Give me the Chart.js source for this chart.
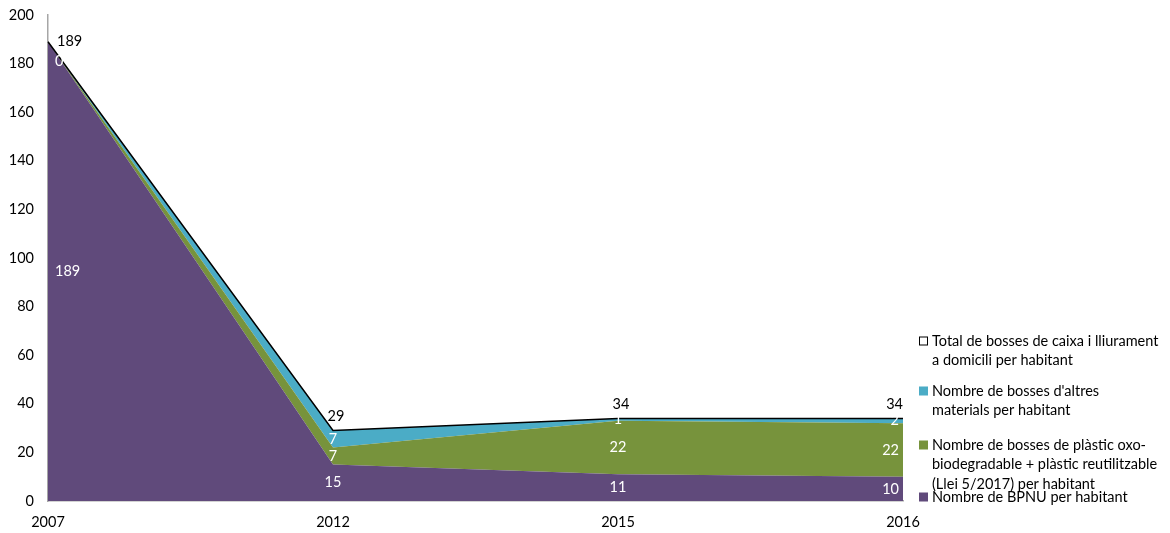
<!DOCTYPE html>
<html>
<head>
<meta charset="utf-8">
<script src="https://cdn.jsdelivr.net/npm/chart.js@4"></script>
<style>
  html, body { margin: 0; padding: 0; background: #fff; }
  #wrap { width: 1170px; height: 533px; position: relative; }
</style>
</head>
<body>
<div id="wrap"><canvas id="myChart"></canvas></div>
<script>
const years = ['2007', '2012', '2015', '2016'];
const bpnu = [189, 15, 11, 10];
const oxo = [0, 7, 22, 22];
const altres = [0, 7, 1, 2];
const total = [189, 29, 34, 34];

const legendLines = [
    ['Total de bosses de caixa i lliurament', 'a domicili per habitant'],
    ["Nombre de bosses d'altres", 'materials per habitant'],
    ['Nombre de bosses de plàstic oxo-', 'biodegradable + plàstic reutilitzable', '(Llei 5/2017) per habitant'],
    ['Nombre de BPNU per habitant'],
];

const purple = '#604A7B';
const green = '#77933C';
const teal = '#4BACC6';
const fontFamily = 'Lato, "Open Sans", sans-serif';
const fontSize = 14.5;

Chart.defaults.font.family = fontFamily;
Chart.defaults.font.size = fontSize;
Chart.defaults.color = '#000';

const areaDefaults = {
    stack: 'parts',
    borderWidth: 0,
    borderColor: 'rgba(0,0,0,0)',
    pointRadius: 0,
    tension: 0,
    order: 1,
};

const data = {
    labels: years,
    datasets: [
        Object.assign({ label: 'Nombre de BPNU per habitant', data: bpnu, backgroundColor: purple, fill: 'origin' }, areaDefaults),
        Object.assign({ label: 'Nombre de bosses de plàstic oxo-biodegradable + plàstic reutilitzable (Llei 5/2017) per habitant', data: oxo, backgroundColor: green, fill: '-1' }, areaDefaults),
        Object.assign({ label: "Nombre de bosses d'altres materials per habitant", data: altres, backgroundColor: teal, fill: '-1' }, areaDefaults),
        {
            label: 'Total de bosses de caixa i lliurament a domicili per habitant',
            data: total,
            stack: 'total',
            borderColor: '#000',
            borderWidth: 1.5,
            backgroundColor: '#fff',
            fill: false,
            pointRadius: 0,
            tension: 0,
            order: 0,
        },
    ]
};

// white labels inside the stacked areas, black labels above the total line
const valueLabels = {
    id: 'valueLabels',
    afterDatasetsDraw(chart) {
        const ctx = chart.ctx;
        const xs = chart.scales.x, ys = chart.scales.y;
        const n = years.length;
        ctx.save();
        ctx.font = fontSize + 'px ' + fontFamily;
        ctx.textBaseline = 'middle';
        const parts = [bpnu, oxo, altres];
        for (let i = 0; i < n; i++) {
            let base = 0;
            const x = xs.getPixelForValue(i);
            parts.forEach((arr, d) => {
                const v = arr[i];
                let y = ys.getPixelForValue(base + v / 2);
                if (v === 0) y += 20;
                base += v;
                if (v === 0 && d === 2) return;
                ctx.fillStyle = '#fff';
                if (i === 0) { ctx.textAlign = 'left'; ctx.fillText(String(v), x + 7, y); }
                else if (i === n - 1) { ctx.textAlign = 'right'; ctx.fillText(String(v), x - 4, y); }
                else { ctx.textAlign = 'center'; ctx.fillText(String(v), x, y); }
            });
            ctx.fillStyle = '#000';
            const ty = ys.getPixelForValue(total[i]);
            if (i === 0) { ctx.textAlign = 'left'; ctx.fillText(String(total[i]), x + 9, ty); }
            else if (i === n - 1) { ctx.textAlign = 'right'; ctx.fillText(String(total[i]), x, ty - 14); }
            else { ctx.textAlign = 'center'; ctx.fillText(String(total[i]), x + 3, ty - 14); }
        }
        ctx.restore();
    }
};

// legend on the right, bottom aligned, reversed order
const sideLegend = {
    id: 'sideLegend',
    afterDraw(chart) {
        const ctx = chart.ctx;
        const area = chart.chartArea;
        const boxX = area.right + 16;
        const textX = boxX + 13;
        const firstLineY = [area.bottom - 160, area.bottom - 110, area.bottom - 56, area.bottom - 4];
        const colors = ['#fff', teal, green, purple];
        ctx.save();
        ctx.font = fontSize + 'px ' + fontFamily;
        ctx.textBaseline = 'middle';
        ctx.textAlign = 'left';
        legendLines.forEach((lines, k) => {
            const y0 = firstLineY[k];
            ctx.fillStyle = colors[k];
            ctx.fillRect(boxX, y0 - 4.5, 9, 9);
            if (k === 0) {
                ctx.strokeStyle = '#000';
                ctx.lineWidth = 1;
                ctx.strokeRect(boxX + 0.5, y0 - 4, 8, 8);
            }
            ctx.fillStyle = '#000';
            lines.forEach((t, j) => ctx.fillText(t, textX, y0 + j * 19.5));
        });
        ctx.restore();
    }
};

const config = {
    type: 'line',
    data: data,
    plugins: [valueLabels, sideLegend],
    options: {
        responsive: true,
        maintainAspectRatio: false,
        animation: false,
        layout: {
            padding: { top: 15, right: 267, bottom: 0, left: 0 }
        },
        plugins: {
            legend: { display: false },
            tooltip: { enabled: false },
            title: { display: false },
        },
        scales: {
            x: {
                offset: false,
                grid: { display: false, drawTicks: false },
                border: { display: true, color: '#A6A6A6', width: 1.5 },
                ticks: { color: '#000', padding: 13, maxRotation: 0, autoSkip: false },
                afterFit(scale) { scale.height = 32; scale.paddingLeft = 0; scale.paddingRight = 0; },
            },
            y: {
                stacked: true,
                min: 0,
                max: 200,
                grid: { display: false, drawTicks: false },
                border: { display: true, color: '#A6A6A6', width: 1.5 },
                ticks: { stepSize: 20, color: '#000', padding: 14 },
                afterFit(scale) { scale.width = 48; scale.paddingTop = 0; scale.paddingBottom = 0; },
            }
        }
    }
};

const myChart = new Chart(
    document.getElementById('myChart'),
    config
);
</script>
</body>
</html>
